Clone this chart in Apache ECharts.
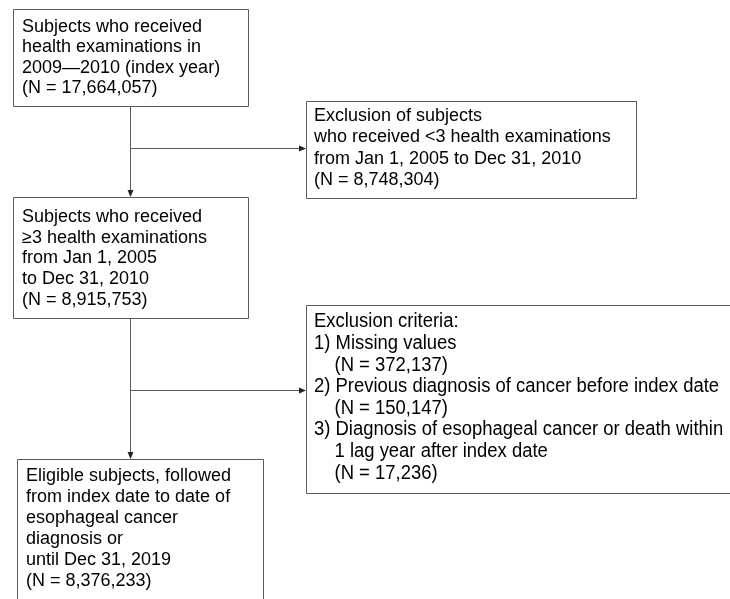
<!DOCTYPE html>
<html><head><meta charset="utf-8">
<script src="https://cdn.jsdelivr.net/npm/echarts@6/dist/echarts.min.js"></script>
<style>html,body{margin:0;padding:0;background:#fff}#c{width:730px;height:599px}</style>
</head><body><div id="c"></div>
<script>
// Box texts (data)
const box1Lines = ['Subjects who received', 'health examinations in', '2009\u20142010 (index year)', '(N = 17,664,057)'];
const box2Lines = ['Subjects who received', '\u22653 health examinations', 'from Jan 1, 2005', 'to Dec 31, 2010', '(N = 8,915,753)'];
const box3Lines = ['Exclusion of subjects', 'who received <3 health examinations', 'from Jan 1, 2005 to Dec 31, 2010', '(N = 8,748,304)'];
const box4Lines = ['Exclusion criteria:', '1) Missing values', '    (N = 372,137)', '2) Previous diagnosis of cancer before index date', '    (N = 150,147)', '3) Diagnosis of esophageal cancer or death within', '    1 lag year after index date', '    (N = 17,236)'];
const box5Lines = ['Eligible subjects, followed', 'from index date to date of', 'esophageal cancer', 'diagnosis or', 'until Dec 31, 2019', '(N = 8,376,233)'];

// Layout (positions / sizes)
const layout = {
  b1: {x: 13, y: 9, w: 235, h: 97, tx: 22, ty: 27, lh: 20.4, sx: 1, fs: 18},
  b3: {x: 306, y: 101, w: 330, h: 97, tx: 314, ty: 116, lh: 21.3, sx: 1, fs: 18},
  b2: {x: 13, y: 197, w: 235, h: 121, tx: 22, ty: 217, lh: 20.7, sx: 1, fs: 18},
  b4: {x: 306, y: 305, w: 430, h: 188, tx: 314, ty: 322, lh: 21.6, sx: 0.946, fs: 19.5},
  b5: {x: 17, y: 459, w: 246, h: 170, tx: 26, ty: 476, lh: 21, sx: 1, fs: 18}
};
const LINE = '#5a5a5a';

function box(L, lines) {
  const els = [{
    type: 'rect', shape: {x: L.x + 0.5, y: L.y + 0.5, width: L.w, height: L.h},
    style: {fill: '#fff', stroke: LINE, lineWidth: 1}
  }];
  lines.forEach((t, i) => {
    els.push({
      type: 'text', x: L.tx, y: L.ty + i * L.lh, scaleX: L.sx,
      style: {text: t, font: L.fs + 'px "Liberation Sans", Arial, sans-serif', fill: '#000', textVerticalAlign: 'middle', textAlign: 'left'}
    });
  });
  return els;
}
function vArrow(x, y1, y2) {
  return [
    {type: 'line', shape: {x1: x + 0.5, y1: y1, x2: x + 0.5, y2: y2 - 5}, style: {stroke: LINE, lineWidth: 1}},
    {type: 'polygon', shape: {points: [[x + 0.5 - 3, y2 - 7], [x + 0.5 + 3, y2 - 7], [x + 0.5, y2]]}, style: {fill: '#222'}}
  ];
}
function hArrow(y, x1, x2) {
  return [
    {type: 'line', shape: {x1: x1, y1: y + 0.5, x2: x2 - 5, y2: y + 0.5}, style: {stroke: LINE, lineWidth: 1}},
    {type: 'polygon', shape: {points: [[x2 - 7, y + 0.5 - 3], [x2 - 7, y + 0.5 + 3], [x2, y + 0.5]]}, style: {fill: '#222'}}
  ];
}

const elements = [].concat(
  vArrow(130, 107, 197),
  hArrow(148, 130, 306),
  vArrow(130, 319, 459),
  hArrow(390, 130, 306),
  box(layout.b1, box1Lines),
  box(layout.b3, box3Lines),
  box(layout.b2, box2Lines),
  box(layout.b4, box4Lines),
  box(layout.b5, box5Lines)
);

const chart = echarts.init(document.getElementById('c'), null, {renderer: 'canvas'});
chart.setOption({
  backgroundColor: '#fff',
  animation: false,
  graphic: {elements: elements}
});
</script></body></html>
